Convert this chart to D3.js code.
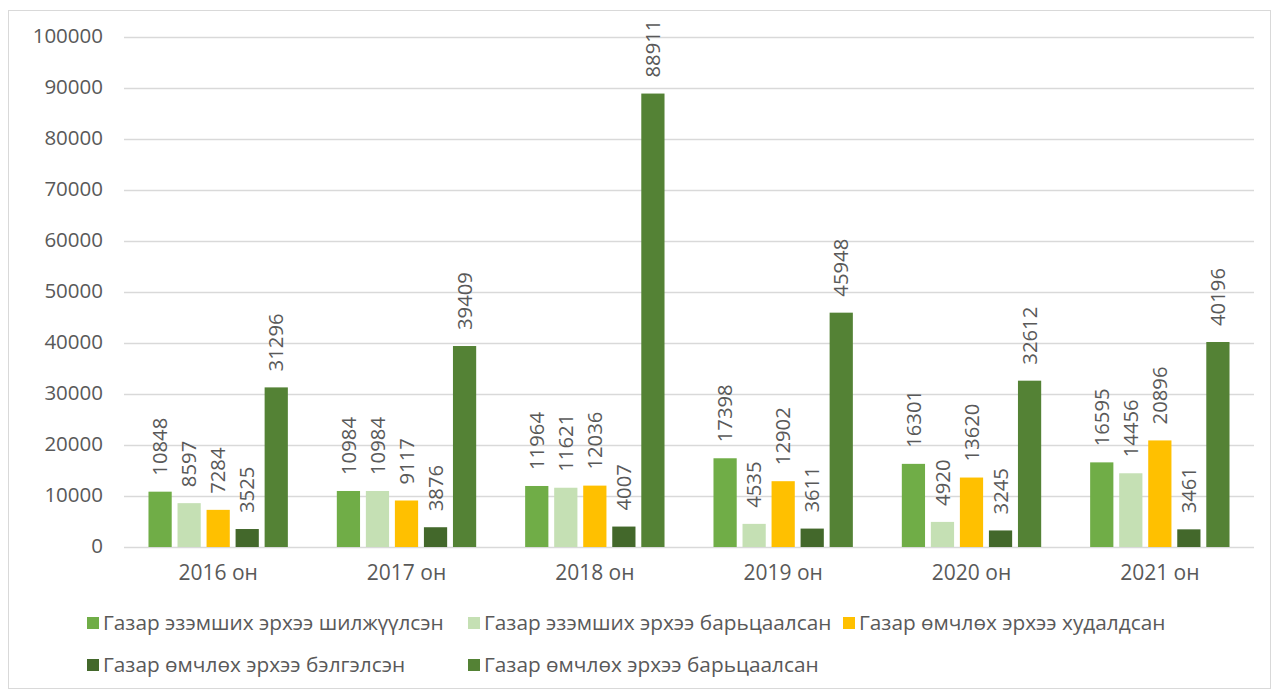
<!DOCTYPE html>
<html><head><meta charset="utf-8">
<script src="https://cdn.jsdelivr.net/npm/d3@7"></script>
<style>body{margin:0;background:#fff}svg{display:block}text{font-family:"Open Sans","Noto Sans",sans-serif;fill:#595959}</style>
</head><body><svg id="c" width="1274" height="692"></svg>
<script>
const categories = ["2016 он","2017 он","2018 он","2019 он","2020 он","2021 он"];
const seriesNames = ["Газар эзэмших эрхээ шилжүүлсэн","Газар эзэмших эрхээ барьцаалсан","Газар өмчлөх эрхээ худалдсан","Газар өмчлөх эрхээ бэлгэлсэн","Газар өмчлөх эрхээ барьцаалсан"];
const s1 = [10848,10984,11964,17398,16301,16595];
const s2 = [8597,10984,11621,4535,4920,14456];
const s3 = [7284,9117,12036,12902,13620,20896];
const s4 = [3525,3876,4007,3611,3245,3461];
const s5 = [31296,39409,88911,45948,32612,40196];
const yTicks = [0,10000,20000,30000,40000,50000,60000,70000,80000,90000,100000];
const colors = ["#70AD47","#C5E0B4","#FFC000","#43682B","#548235"];
const series = [s1,s2,s3,s4,s5];
(function(){
const svg = d3.select("#c");
svg.append("rect").attr("x",8.5).attr("y",10.5).attr("width",1262).attr("height",678).attr("fill","none").attr("stroke","#d9d9d9");

const pl=124,pr=1254,pt=37,pb=547;
const y = d3.scaleLinear().domain([0,100000]).range([pb,pt]);
const x0 = d3.scaleBand().domain(categories).range([pl,pr]).paddingInner(0.26).paddingOuter(0.13);
const x1 = d3.scaleBand().domain(d3.range(5)).range([0,x0.bandwidth()]).paddingInner(0.2);

svg.append("g").selectAll("line").data(yTicks).join("line")
  .attr("x1",pl).attr("x2",pr).attr("y1",d=>Math.round(y(d))+0.5).attr("y2",d=>Math.round(y(d))+0.5)
  .attr("stroke","#d9d9d9").attr("stroke-width",1.3);
svg.append("g").selectAll("text").data(yTicks).join("text")
  .attr("x",103).attr("y",d=>y(d)-1).attr("dy","0.35em").attr("text-anchor","end")
  .attr("font-size",20.5).text(d=>d);

const g = svg.append("g");
categories.forEach((c,i)=>{
  series.forEach((s,j)=>{
    const bx = x0(c)+x1(j);
    g.append("rect").attr("x",bx).attr("width",x1.bandwidth())
      .attr("y",y(s[i])).attr("height",y(0)-y(s[i])).attr("fill",colors[j]);
    const cx = bx + x1.bandwidth()/2, ty = y(s[i]) - 16;
    g.append("text").attr("transform",`translate(${cx},${ty}) rotate(-90)`)
      .attr("dy","0.35em").attr("font-size",20.3).text(s[i]);
  });
});

svg.append("g").selectAll("text").data(categories).join("text")
  .attr("x",d=>x0(d)+x0.bandwidth()/2).attr("y",573).attr("dy","0.35em")
  .attr("text-anchor","middle").attr("font-size",21).text(d=>d);

const legPos = [[87,623],[468,623],[843,623],[87,665],[468,665]];
const lg = svg.append("g");
seriesNames.forEach((n,j)=>{
  const [lx,ly]=legPos[j];
  lg.append("rect").attr("x",lx).attr("y",ly-6).attr("width",12).attr("height",12).attr("fill",colors[j]);
  lg.append("text").attr("x",lx+16).attr("y",ly).attr("dy","0.35em").attr("font-size",20.8).text(n);
});
})();
</script></body></html>
